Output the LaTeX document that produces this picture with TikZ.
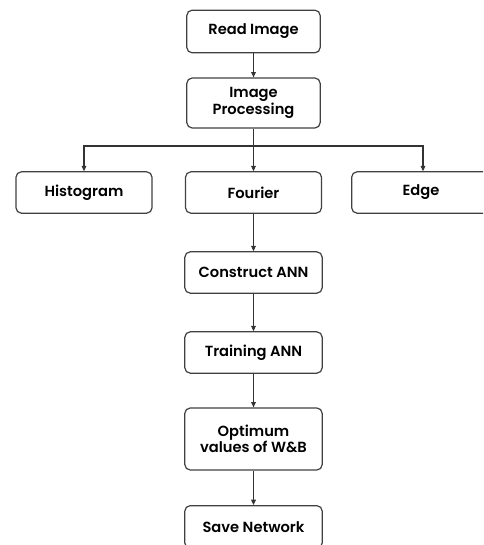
\documentclass[tikz,border=0pt]{standalone}
\usepackage{fontspec}
\setmainfont{Poppins}[BoldFont={Poppins SemiBold}]
\usetikzlibrary{arrows.meta}
\begin{document}
\begin{tikzpicture}[x=0.75pt,y=-0.75pt,
        box/.style={draw=black!75,line width=0.9pt,rounded corners=4pt,align=center,
                    font=\fontsize{11}{12.5}\selectfont\bfseries,inner sep=0pt},
        link/.style={draw=black!80,line width=0.8pt,-{Triangle[length=4pt,width=3.5pt]}}]
    \useasboundingbox (0,0) rectangle (483,545);
    \clip (0,0) rectangle (483,545);

    \node[box,minimum width=100pt,minimum height=32pt] (read) at (253.5,31.5) {Read Image};
    \node[box,minimum width=100pt,minimum height=37.5pt] (proc) at (253.5,103) {Image\\Processing};

    \node[box,minimum width=102pt,minimum height=31pt] (hist) at (84,192.5) {Histogram};
    \node[box,minimum width=102pt,minimum height=31pt] (four) at (253.5,192.5) {Fourier};
    \node[box,minimum width=104pt,minimum height=31pt] (edge) at (421,192.5) {Edge};

    \node[box,minimum width=103pt,minimum height=31pt] (cons) at (253.5,272.5) {Construct ANN};
    \node[box,minimum width=103pt,minimum height=31pt] (train) at (253.5,352.5) {Training ANN};
    \node[box,minimum width=103pt,minimum height=46.5pt] (opt) at (253.5,439) {Optimum\\values of W\&B};
    \node[box,minimum width=103pt,minimum height=32pt] (save) at (253.5,527) {Save Network};

    \coordinate (split) at (253.5,146);
    \draw[link] (read) -- (proc);
    \draw[draw=black!80,line width=0.8pt] (proc) -- (split);
    \draw[link] (split) -| (hist);
    \draw[link] (split) -- (four);
    \draw[link] (split) -| (edge.north -| 423,0);
    \draw[link] (four) -- (cons);
    \draw[link] (cons) -- (train);
    \draw[link] (train) -- (opt);
    \draw[link] (opt) -- (save);
\end{tikzpicture}
\end{document}
